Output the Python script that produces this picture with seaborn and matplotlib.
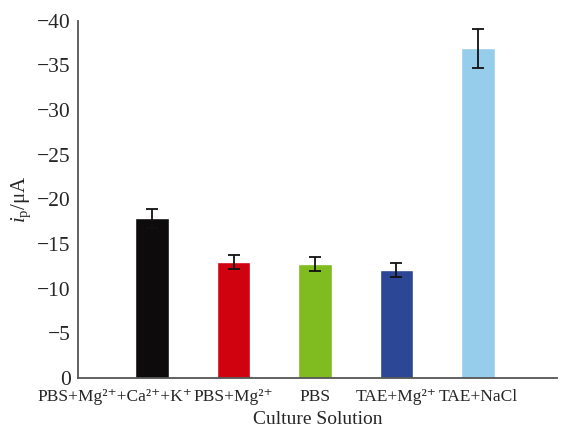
import matplotlib
matplotlib.use('Agg')
import matplotlib.pyplot as plt
import matplotlib.transforms as mtransforms
import seaborn as sns
import pandas as pd

# data
solutions = ['PBS+Mg²⁺+Ca²⁺+K⁺', 'PBS+Mg²⁺', 'PBS', 'TAE+Mg²⁺', 'TAE+NaCl']
peak_current = [-17.9, -13.0, -12.8, -12.1, -36.9]
current_err = [1.05, 0.77, 0.77, 0.74, 2.23]
bar_colors = ['#0d0b0c', '#d0020f', '#80bb1f', '#2c4795', '#96cdea']
y_ticks = [0, -5, -10, -15, -20, -25, -30, -35, -40]

sns.set_style('white')
plt.rcParams['font.family'] = ['Liberation Serif', 'DejaVu Serif']
plt.rcParams['mathtext.fontset'] = 'custom'
plt.rcParams['mathtext.rm'] = 'Liberation Serif'
plt.rcParams['mathtext.it'] = 'Liberation Serif:italic'

df = pd.DataFrame({'solution': solutions, 'ip': peak_current})

fig, ax = plt.subplots(figsize=(5.63, 4.32), dpi=100)
fig.subplots_adjust(left=0.138, right=0.989, bottom=0.125, top=0.952)

sns.barplot(data=df, x='solution', y='ip', hue='solution', palette=bar_colors,
            legend=False, width=0.41, saturation=1, ax=ax)
ax.errorbar(range(len(solutions)), peak_current, yerr=current_err, fmt='none',
            ecolor='#111111', elinewidth=1.3, capsize=4.5, capthick=1.3)

ax.set_ylim(0, -40)
ax.set_xlim(-0.915, 4.97)
ax.set_yticks(y_ticks)

ax.set_xlabel('Culture Solution', fontsize=14, labelpad=4)
ax.set_ylabel(r'$i_\mathrm{p}$/μA', fontsize=15, labelpad=3)

sns.despine(ax=ax)
for s in ['left', 'bottom']:
    ax.spines[s].set_color('#555555')
    ax.spines[s].set_linewidth(1.3)
ax.tick_params(axis='both', direction='in', length=5, width=1.2, color='#333333')
ax.tick_params(axis='y', pad=5, labelsize=15.5)
ax.tick_params(axis='x', pad=8, labelsize=12.5)

# the long first label sits left of its bar in the original
lab0 = ax.get_xticklabels()[0]
lab0.set_transform(lab0.get_transform() + mtransforms.ScaledTranslation(-0.37, 0, fig.dpi_scale_trans))

fig.savefig('out.png', dpi=100)
